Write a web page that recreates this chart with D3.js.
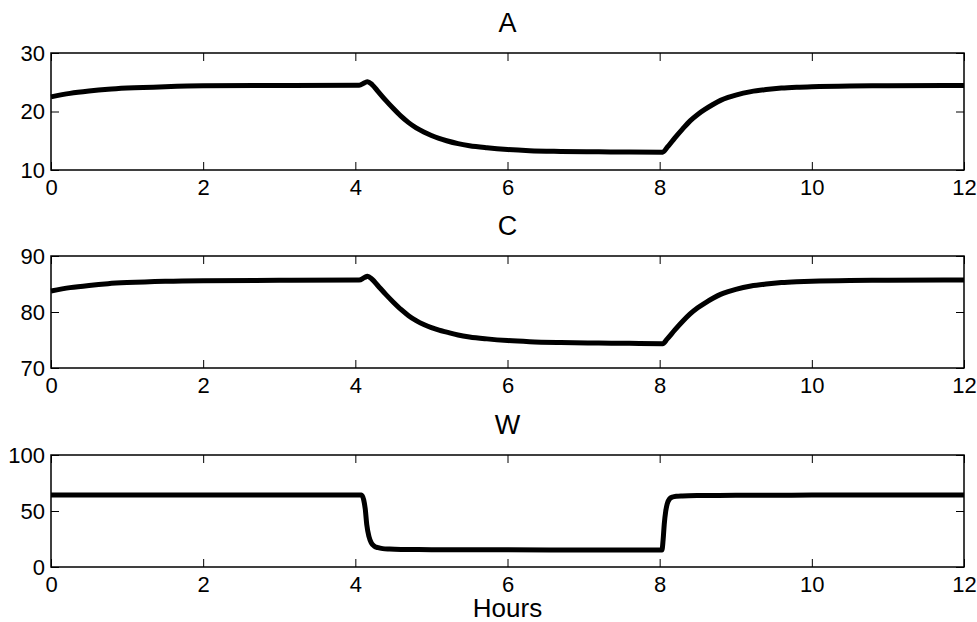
<!DOCTYPE html>
<html>
<head>
<meta charset="utf-8">
<script src="https://cdn.jsdelivr.net/npm/d3@7"></script>
<style>
  html, body { margin: 0; padding: 0; background: #fff; }
  svg { display: block; font-family: "Liberation Sans", Arial, Helvetica, sans-serif; }
</style>
</head>
<body>
<svg id="chart" width="977" height="622"></svg>
<script>
// Simulated time courses over a 12 hour run (hours, value)
const hoursA = [0, 0.25, 0.5, 0.75, 1, 1.5, 2, 3, 4.05, 4.12, 4.16, 4.22, 4.3, 4.4, 4.5, 4.6, 4.7, 4.8, 4.9, 5.0, 5.1, 5.2, 5.35, 5.5, 5.73, 6.0, 6.29, 6.7, 7.2, 7.6, 8.04, 8.1, 8.2, 8.3, 8.4, 8.5, 8.6, 8.7, 8.8, 8.9, 9.0, 9.2, 9.4, 9.6, 9.8, 10, 10.5, 11, 12];
const valuesA = [22.5, 23.1, 23.5, 23.8, 24.0, 24.25, 24.4, 24.45, 24.5, 24.9, 25.1, 24.6, 23.4, 21.9, 20.5, 19.2, 18.1, 17.2, 16.5, 15.9, 15.4, 15.0, 14.5, 14.15, 13.8, 13.5, 13.3, 13.18, 13.1, 13.06, 13.05, 13.9, 15.5, 17.0, 18.4, 19.5, 20.4, 21.2, 21.9, 22.4, 22.8, 23.4, 23.75, 24.0, 24.15, 24.25, 24.38, 24.42, 24.45];

const hoursC = [0, 0.25, 0.5, 0.75, 1, 1.5, 2, 3, 4.05, 4.12, 4.16, 4.22, 4.3, 4.4, 4.5, 4.6, 4.7, 4.8, 4.9, 5.0, 5.1, 5.2, 5.35, 5.5, 5.73, 6.0, 6.29, 6.7, 7.2, 7.6, 8.04, 8.1, 8.2, 8.3, 8.4, 8.5, 8.6, 8.7, 8.8, 8.9, 9.0, 9.2, 9.4, 9.6, 9.8, 10, 10.5, 11, 12];
const valuesC = [83.75, 84.35, 84.75, 85.05, 85.25, 85.5, 85.6, 85.65, 85.7, 86.15, 86.4, 85.85, 84.65, 83.15, 81.75, 80.45, 79.35, 78.45, 77.75, 77.2, 76.75, 76.4, 75.9, 75.55, 75.2, 74.9, 74.7, 74.55, 74.45, 74.4, 74.35, 75.2, 76.8, 78.3, 79.65, 80.75, 81.65, 82.45, 83.15, 83.65, 84.05, 84.65, 85.0, 85.25, 85.4, 85.5, 85.63, 85.67, 85.7];

const hoursW = [0, 1, 2, 3, 4.08, 4.11, 4.13, 4.15, 4.18, 4.21, 4.25, 4.3, 4.36, 4.45, 4.6, 5, 6, 7, 8.03, 8.045, 8.06, 8.08, 8.1, 8.13, 8.17, 8.22, 8.3, 8.5, 9, 10, 11, 12];
const valuesW = [64.3, 64.3, 64.3, 64.3, 64.3, 60, 52, 38, 27, 21.5, 18.6, 17.2, 16.4, 16.0, 15.7, 15.5, 15.3, 15.2, 15.1, 24, 38, 50, 56.5, 60.8, 62.5, 63.2, 63.5, 63.8, 64.0, 64.2, 64.3, 64.3];

const xTicks = [0, 2, 4, 6, 8, 10, 12];
const panels = [
  { title: "A", hours: hoursA, values: valuesA, domain: [10, 30], ticks: [10, 20, 30] },
  { title: "C", hours: hoursC, values: valuesC, domain: [70, 90], ticks: [70, 80, 90] },
  { title: "W", hours: hoursW, values: valuesW, domain: [0, 100], ticks: [0, 50, 100] }
];
const panelTops = [53, 256, 455];
const panelBottoms = [170, 368, 567];
const xLabel = "Hours";

const svg = d3.select("#chart");
const left = 51, right = 964;
const x = d3.scaleLinear().domain([0, 12]).range([left, right]);
const tickLen = 8;
const fontStack = "'Liberation Sans', Arial, Helvetica, sans-serif";

panels.forEach((p, i) => {
  const top = panelTops[i], bottom = panelBottoms[i];
  const y = d3.scaleLinear().domain(p.domain).range([bottom, top]);
  const g = svg.append("g");

  // inward ticks on all four sides
  const axisStyle = sel => {
    sel.select(".domain").remove();
    sel.selectAll(".tick line").attr("stroke", "#000").attr("stroke-width", 1);
    sel.selectAll(".tick text").attr("fill", "#000").attr("font-size", 22)
      .attr("font-family", fontStack);
  };
  g.append("g").attr("transform", `translate(0,${bottom})`)
    .call(d3.axisBottom(x).tickValues(xTicks).tickFormat(d3.format("d")).tickSizeInner(-tickLen).tickSizeOuter(0).tickPadding(9))
    .call(axisStyle);
  g.append("g").attr("transform", `translate(0,${top})`)
    .call(d3.axisTop(x).tickValues(xTicks).tickFormat("").tickSizeInner(-tickLen).tickSizeOuter(0))
    .call(axisStyle);
  g.append("g").attr("transform", `translate(${left},0)`)
    .call(d3.axisLeft(y).tickValues(p.ticks).tickFormat(d3.format("d")).tickSizeInner(-tickLen).tickSizeOuter(0).tickPadding(6))
    .call(axisStyle);
  g.append("g").attr("transform", `translate(${right},0)`)
    .call(d3.axisRight(y).tickValues(p.ticks).tickFormat("").tickSizeInner(-tickLen).tickSizeOuter(0))
    .call(axisStyle);

  // plot box
  g.append("rect")
    .attr("x", left).attr("y", top)
    .attr("width", right - left).attr("height", bottom - top)
    .attr("fill", "none").attr("stroke", "#000").attr("stroke-width", 1.5);

  // series line
  const pts = p.hours.map((h, k) => [h, p.values[k]]);
  const line = d3.line().x(d => x(d[0])).y(d => y(d[1])).curve(d3.curveMonotoneX);
  g.append("path").datum(pts)
    .attr("d", line)
    .attr("fill", "none").attr("stroke", "#000")
    .attr("stroke-width", 5).attr("stroke-linejoin", "round");

  // panel title
  g.append("text")
    .attr("x", (left + right) / 2).attr("y", top - 21)
    .attr("text-anchor", "middle").attr("font-size", 27).attr("fill", "#000")
    .attr("font-family", fontStack)
    .text(p.title);
});

svg.append("text")
  .attr("x", (left + right) / 2).attr("y", 617)
  .attr("text-anchor", "middle").attr("font-size", 26).attr("fill", "#000")
  .attr("font-family", fontStack)
  .text(xLabel);
</script>
</body>
</html>
